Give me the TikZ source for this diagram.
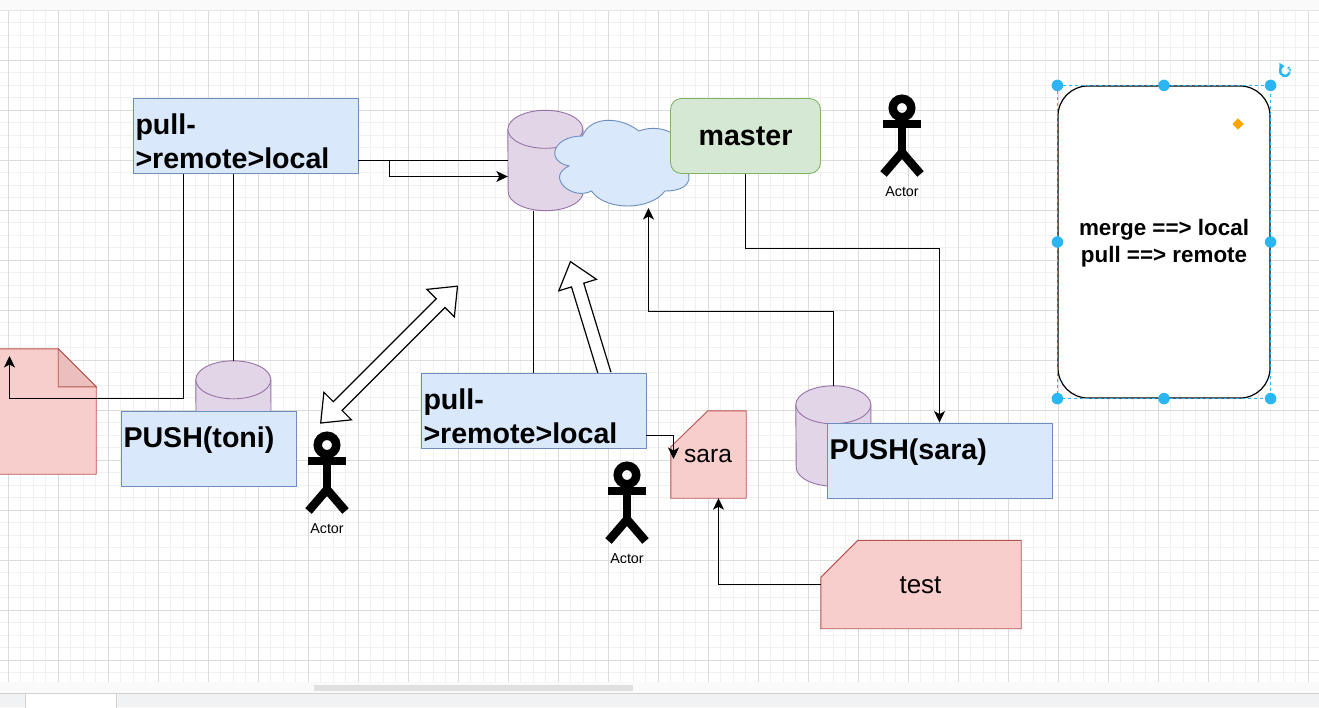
\documentclass[tikz,border=0pt]{standalone}
\usepackage{fontspec}
\setmainfont{Liberation Sans}
\usetikzlibrary{arrows.meta,shapes.geometric}
\definecolor{bluefill}{HTML}{DAE8FC}
\definecolor{bluedraw}{HTML}{6C8EBF}
\definecolor{purplefill}{HTML}{E1D5E7}
\definecolor{purpledraw}{HTML}{9673A6}
\definecolor{greenfill}{HTML}{D5E8D4}
\definecolor{greendraw}{HTML}{82B366}
\definecolor{redfill}{HTML}{F8CECC}
\definecolor{reddraw}{HTML}{B85450}
\definecolor{foldfill}{HTML}{EBBFBE}
\definecolor{selblue}{HTML}{29B6F2}
\definecolor{tabbar}{HTML}{F1F2F4}
\definecolor{adjust}{HTML}{FFA500}
\newcommand{\bigbold}{\fontsize{28.6}{33.5}\selectfont\bfseries}
% cylinder drawn on an empty named node: x, y, name
\newcommand{\dbcyl}[3]{
\node[cylbox] (#3) at (#1,#2) {};
\draw[cyl] ([yshift=-19pt]#3.north west) arc[start angle=180, end angle=0, x radius=37.5pt, y radius=19pt] -- ([yshift=19pt]#3.south east) arc[start angle=0, end angle=-180, x radius=37.5pt, y radius=19pt] -- cycle;
\draw[cyl] ([yshift=-19pt]#3.north west) arc[start angle=180, end angle=360, x radius=37.5pt, y radius=19pt];
}
\tikzset{
minorgrid/.style={draw=black!6, line width=1pt},
majorgrid/.style={draw=black!14, line width=1pt},
chrome/.style={draw=none, fill=black!2},
bluebox/.style={draw=bluedraw, fill=bluefill, line width=0.9pt, minimum width=225pt, minimum height=75pt, text width=220pt, inner xsep=2.5pt, inner ysep=2pt, align=left, font=\bigbold, execute at begin node={\rule{0pt}{31pt}}},
cylbox/.style={minimum width=75pt, minimum height=100pt, inner sep=0pt},
cyl/.style={draw=purpledraw, fill=purplefill, line width=0.9pt},
card/.style={draw=reddraw, fill=redfill, line width=0.9pt},
cardbox/.style={inner sep=0pt},
cardtxt/.style={inner sep=0pt, font=\fontsize{24.6}{28}\selectfont},
line/.style={draw=black, line width=1.2pt},
arr/.style={line, -{Stealth[length=11.5pt, width=11pt, inset=3pt]}},
block/.style={draw=black, fill=white, line width=1.2pt, line join=miter},
actorpart/.style={draw=black, line width=8.5pt},
actorlabel/.style={inner sep=0pt, font=\fontsize{14.3}{16}\selectfont},
handle/.style={circle, fill=selblue, minimum size=11.5pt, inner sep=0pt}
}
\begin{document}
\begin{tikzpicture}[x=1pt, y=-1pt]
\useasboundingbox (0,0) rectangle (1319,707);
\fill[white] (0,0) rectangle (1319,707);
% grid
\foreach \i in {0,...,105} {
\draw[minorgrid] ({8+12.5*\i},10) -- ({8+12.5*\i},682);
}
\foreach \i in {0,...,53} {
\draw[minorgrid] (0,{10+12.5*\i}) -- (1319,{10+12.5*\i});
}
\foreach \i in {0,...,26} {
\draw[majorgrid] ({8+50*\i},10) -- ({8+50*\i},682);
}
\foreach \i in {0,...,12} {
\draw[majorgrid] (0,{60+50*\i}) -- (1319,{60+50*\i});
}
% editor bars
\fill[chrome] (0,0) rectangle (1319,10);
\draw[draw=black!10, line width=1pt] (0,10) -- (1319,10);
\fill[chrome] (0,682) rectangle (1319,693);
\fill[black!12] (314,685) rectangle (633,691);
\fill[tabbar] (0,693) rectangle (1319,707);
\draw[draw=black!18, line width=1pt] (0,693.5) -- (1319,693.5);
\filldraw[draw=black!18, fill=white, line width=1pt] (25,708) rectangle (116.5,693.5);

% note at the left edge
\node[minimum width=106pt, minimum height=125pt, inner sep=0pt] (note) at (43,411.5) {};
\draw[card] (note.north west) -- ([xshift=-38pt]note.north east) -- ([yshift=-38pt]note.north east) -- (note.south east) -- (note.south west) -- cycle;
\draw[card, fill=foldfill] ([xshift=-38pt]note.north east) -- ([yshift=-38pt]note.north east) -- ([xshift=-38pt, yshift=-38pt]note.north east) -- cycle;
\coordinate (noteup) at (9.5,356);

% cylinders
\dbcyl{545.5}{160.5}{cyla}
\dbcyl{233.5}{411}{cylt}
\dbcyl{833.5}{436}{cyls}

% cloud
\begin{scope}[shift={(545,111)}, x=1.5pt, y=-1pt]
\draw[draw=bluedraw, fill=bluefill, line width=0.9pt] (25,25) .. controls (5,25) and (0,50) .. (16,55) .. controls (0,66) and (18,90) .. (31,80) .. controls (40,100) and (70,100) .. (80,80) .. controls (100,80) and (100,60) .. (87.5,50) .. controls (100,30) and (80,10) .. (62.5,20) .. controls (50,5) and (30,5) .. (25,25) -- cycle;
\end{scope}
\coordinate (cloudin) at (648.5,208);

% hollow block arrows
\begin{scope}[shift={(320.7,423)}, rotate=45]
\draw[block] (0,0) -- (24,19.5) -- (24,6.2) -- (169.5,6.2) -- (169.5,19.5) -- (193.5,0) -- (169.5,-19.5) -- (169.5,-6.2) -- (24,-6.2) -- (24,-19.5) -- cycle;
\end{scope}
\begin{scope}[shift={(604.8,374)}, rotate=107]
\draw[block] (0,-6.4) -- (93,-6.4) -- (93,-19.7) -- (117.5,0) -- (93,19.7) -- (93,6.4) -- (0,6.4);
\end{scope}

% boxes
\node[bluebox] (pulla) at (245.5,136) {pull-\\>remote>local};
\node[bluebox] (pullb) at (533.5,411) {pull-\\>remote>local};
\node[bluebox, minimum width=175pt, text width=170pt] (pusht) at (208.5,448.5) {PUSH(toni)\\\mbox{}};
\node[bluebox] (pushs) at (939.5,460.5) {PUSH(sara)\\\mbox{}};
\node[draw=greendraw, fill=greenfill, line width=0.9pt, rounded corners=11pt, minimum width=150pt, minimum height=75pt, font=\bigbold] (master) at (745.5,136) {master};

% cards
\node[cardbox, minimum width=75pt, minimum height=87pt] (sara) at (708.5,454.5) {};
\draw[card] ([yshift=-36pt]sara.north west) -- ([xshift=37pt]sara.north west) -- (sara.north east) -- (sara.south east) -- (sara.south west) -- cycle;
\node[cardtxt] (saratxt) at (708,456) {sara};
\node[cardbox, minimum width=200pt, minimum height=88pt] (test) at (921,584.5) {};
\draw[card] ([yshift=-37pt]test.north west) -- ([xshift=37pt]test.north west) -- (test.north east) -- (test.south east) -- (test.south west) -- cycle;
\node[cardtxt, font=\fontsize{26}{30}\selectfont] (testtxt) at (920.5,585) {test};
\coordinate (sarain) at (673.5,459);

% connectors
\draw[line] (cyla.west -| pulla.east) -- (cyla.west);
\draw[arr] (cyla.west -| pulla.east) -- ++(31,0) -- ++(0,16) -- ([yshift=-16pt]cyla.west);
\draw[arr] ([xshift=-62pt]pulla.south) -- ++(0,224.5) -| (noteup);
\draw[line] ([xshift=-12pt]pulla.south) -- (cylt.north);
\draw[line] ([xshift=-12pt]cyla.south) -- ([xshift=-12pt]cyla.south |- pullb.north);
\draw[arr] (master.south) -- ++(0,74.5) -| (pushs.north);
\draw[arr] (cyls.north) -- ++(0,-74.5) -| (cloudin);
\draw[arr] ([yshift=-24.5pt]pullb.east) -| (sarain);
\draw[arr] (test.west) -| ([xshift=10pt]sara.south);

% actors
\foreach \ax/\ay/\nm in {902/108/a,327/445/b,627/475/c} {
\node[circle, draw=black, line width=8.5pt, minimum size=18.5pt, inner sep=0pt] (head\nm) at (\ax,\ay) {};
\draw[actorpart] (head\nm.south) -- ++(0,31) coordinate (hip\nm);
\draw[actorpart] ([xshift=-19pt, yshift=-2.5pt]head\nm.south) -- ++(38,0);
\draw[actorpart] (hip\nm) -- ++(-18.5,21.5);
\draw[actorpart] (hip\nm) -- ++(18.5,21.5);
\node[actorlabel] (lab\nm) at (\ax,{\ay+83.5}) {Actor};
}

% selected note
\node[draw=black, fill=white, line width=1.2pt, rounded corners=30pt, minimum width=212pt, minimum height=312pt, inner sep=0pt] (merge) at (1164,242) {};
\node[inner sep=0pt, align=center, font=\fontsize{22.4}{27.5}\selectfont\bfseries] (mergetxt) at (1164,243) {merge ==> local\\pull ==> remote};
\draw[draw=selblue, line width=1pt, dashed] (merge.north west) rectangle (merge.south east);
\foreach \a [count=\i] in {north west,north,north east,west,east,south west,south,south east} {
\node[handle] (h\i) at (merge.\a) {};
}
\node[diamond, fill=adjust, minimum size=11.5pt, inner sep=0pt] (adjustpt) at (1238,124) {};
\coordinate (rot) at (1285,71);
\draw[draw=selblue, line width=2.4pt, -{Triangle[length=5pt, width=7pt]}] ([shift={(-20:5pt)}]rot) arc[start angle=-20, end angle=-265, radius=5pt];
\draw[draw=selblue, line width=2.4pt, dash pattern=on 1.5pt off 1pt] ([shift={(50:5pt)}]rot) arc[start angle=50, end angle=-15, radius=5pt];
\end{tikzpicture}
\end{document}
